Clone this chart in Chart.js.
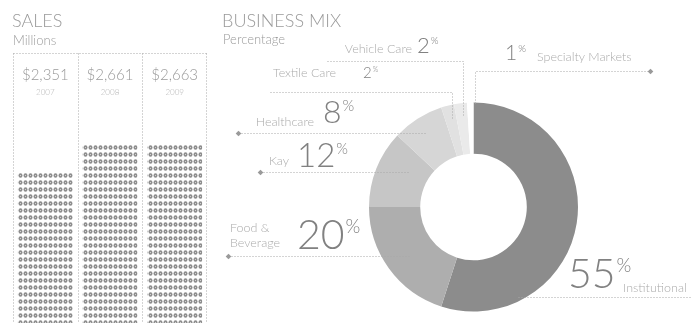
<!DOCTYPE html>
<html>
<head>
<meta charset="utf-8">
<script src="https://cdn.jsdelivr.net/npm/chart.js@4.4.0/dist/chart.umd.min.js"></script>
<style>
  html, body { margin: 0; padding: 0; background: #fff; }
  #wrap { position: relative; width: 692px; height: 323px; overflow: hidden; }
  canvas { position: absolute; }
  #mix { left: 0; top: 0; }
  #sales { left: 13px; top: 53px; }
</style>
</head>
<body>
<div id="wrap">
  <canvas id="mix" width="692" height="323"></canvas>
  <canvas id="sales" width="194" height="270"></canvas>
</div>
<script>
"use strict"

// sales, millions of dollars
const years = ['2007', '2008', '2009'];
const sales = [2351, 2661, 2663];
const salesLabels = ['$2,351', '$2,661', '$2,663'];

// business mix, percent of sales
const segments = ['Institutional', 'Food & Beverage', 'Kay', 'Healthcare', 'Textile Care', 'Vehicle Care', 'Specialty Markets'];
const shares = [55, 20, 12, 8, 2, 2, 1];

const FONT = 'Lato, "Open Sans", sans-serif';
const shades = ['#8c8c8c', '#aeaeae', '#c6c6c6', '#d6d6d6', '#e1e1e1', '#eaeaea', '#ffffff'];

// where each segment's label and leader line sit (page pixels)
const callouts = [
  { num: [568, 288, 41], name: ['Institutional'], nameAt: [623, 292, 'left'], line: [[518, 297], [692, 297]], dot: null },
  { num: [297, 249, 41], name: ['Food &', 'Beverage'], nameAt: [230, 232, 'left'], line: [[228, 256], [410, 256]], dot: [228, 256] },
  { num: [297, 167, 33], name: ['Kay'], nameAt: [289, 165, 'right'], line: [[260, 172], [410, 172]], dot: [260, 172] },
  { num: [323, 123, 32], name: ['Healthcare'], nameAt: [314, 126, 'right'], line: [[238, 133], [425, 133]], dot: [238, 133] },
  { num: [363, 78, 15], name: ['Textile Care'], nameAt: [336, 77, 'right'], line: [[270, 92], [452, 92], [452, 118]], dot: null },
  { num: [417, 53, 22], name: ['Vehicle Care'], nameAt: [412, 53, 'right'], line: [[327, 61], [463, 61], [463, 117]], dot: null },
  { num: [505, 60, 21], name: ['Specialty Markets'], nameAt: [537, 61, 'left'], line: [[475, 103], [475, 71], [650, 71]], dot: [650, 71] }
];

function dotPattern() {
  const tile = document.createElement('canvas');
  tile.width = 5;
  tile.height = 7;
  const c = tile.getContext('2d');
  c.fillStyle = '#8e8e8e';
  c.beginPath();
  c.ellipse(2.5, 3.5, 2, 2.2, 0, 0, Math.PI * 2);
  c.fill();
  c.fillStyle = '#d4d4d4';
  c.fillRect(2, 3, 1, 1);
  return c.createPattern(tile, 'repeat');
}

function dotted(ctx, pts) {
  ctx.save();
  ctx.strokeStyle = '#a8a8a8';
  ctx.lineWidth = 1;
  ctx.setLineDash([1, 2]);
  ctx.beginPath();
  pts.forEach((p, i) => {
    const x = Math.round(p[0]) + 0.5, y = Math.round(p[1]) + 0.5;
    if (i === 0) ctx.moveTo(x, y); else ctx.lineTo(x, y);
  });
  ctx.stroke();
  ctx.restore();
}

function marker(ctx, x, y) {
  ctx.save();
  ctx.translate(x + 0.5, y + 0.5);
  ctx.rotate(Math.PI / 4);
  ctx.fillStyle = '#9a9a9a';
  ctx.fillRect(-2, -2, 4, 4);
  ctx.restore();
}

// dotted frame, column dividers and the value over each column
const salesFrame = {
  id: 'salesFrame',
  beforeDatasetsDraw(chart) {
    const ctx = chart.ctx, x = chart.scales.x, h = chart.height;
    const edges = [0, chart.width - 1];
    for (let i = 0; i < years.length - 1; i++) {
      edges.push((x.getPixelForValue(i) + x.getPixelForValue(i + 1)) / 2);
    }
    edges.forEach(e => dotted(ctx, [[e, 0], [e, h]]));
    dotted(ctx, [[0, 0], [chart.width - 1, 0]]);
  },
  afterDraw(chart) {
    const ctx = chart.ctx, x = chart.scales.x;
    ctx.save();
    ctx.textAlign = 'center';
    years.forEach((yr, i) => {
      const cx = x.getPixelForValue(i);
      ctx.fillStyle = '#9a9a9a';
      ctx.font = '300 15px ' + FONT;
      ctx.fillText(salesLabels[i], cx, 27);
      ctx.fillStyle = '#b4b4b4';
      ctx.font = '300 8px ' + FONT;
      ctx.fillText(yr, cx, 42);
    });
    ctx.restore();
  }
};

// headings, percentages, segment names and leader lines
const mixLabels = {
  id: 'mixLabels',
  afterDraw(chart) {
    const ctx = chart.ctx;
    ctx.save();
    ctx.fillStyle = '#9a9a9a';
    ctx.font = '300 18px ' + FONT;
    ctx.fillText('SALES', 12, 27);
    ctx.fillText('BUSINESS MIX', 222, 27);
    ctx.font = '300 13px ' + FONT;
    ctx.fillText('Millions', 13, 45);
    ctx.fillText('Percentage', 223, 44);

    callouts.forEach((c, i) => {
      dotted(ctx, c.line);
      if (c.dot) marker(ctx, c.dot[0], c.dot[1]);

      const [nx, ny, size] = c.num;
      ctx.textAlign = 'left';
      ctx.fillStyle = '#818181';
      ctx.font = '300 ' + size + 'px ' + FONT;
      const digits = String(shares[i]);
      ctx.fillText(digits, nx, ny);
      const w = ctx.measureText(digits).width;
      const ps = Math.round(size * 0.46);
      ctx.font = '300 ' + ps + 'px ' + FONT;
      ctx.fillText('%', nx + w + 1, ny - size * 0.72 + ps * 0.72);

      const [lx, ly, align] = c.nameAt;
      ctx.textAlign = align;
      ctx.fillStyle = '#ababab';
      ctx.font = '300 12.5px ' + FONT;
      c.name.forEach((t, k) => ctx.fillText(t, lx, ly + k * 15));
    });
    ctx.restore();
  }
};

new Chart(document.getElementById('sales'), {
  type: 'bar',
  data: {
    labels: years,
    datasets: [{
      data: sales,
      backgroundColor: dotPattern(),
      borderWidth: 0,
      barPercentage: 0.85,
      categoryPercentage: 1
    }]
  },
  options: {
    responsive: false,
    animation: false,
    events: [],
    layout: { padding: 0 },
    scales: {
      x: { display: false },
      y: { display: false, min: 727, max: 3630 }
    },
    plugins: { legend: { display: false }, tooltip: { enabled: false } }
  },
  plugins: [salesFrame]
});

new Chart(document.getElementById('mix'), {
  type: 'doughnut',
  data: {
    labels: segments,
    datasets: [{
      data: shares,
      backgroundColor: shades,
      borderWidth: 0,
      hoverOffset: 0
    }]
  },
  options: {
    responsive: false,
    animation: false,
    events: [],
    cutout: '51%',
    rotation: 0,
    layout: { padding: { left: 369, right: 114, top: 102.5, bottom: 11.5 } },
    plugins: { legend: { display: false }, tooltip: { enabled: false } }
  },
  plugins: [mixLabels]
});
</script>
</body>
</html>
